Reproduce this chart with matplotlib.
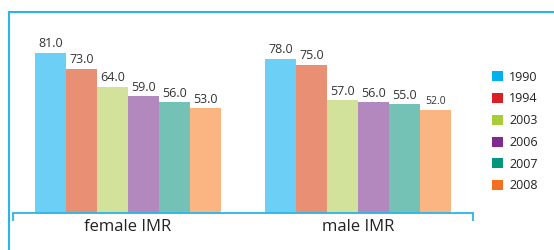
import matplotlib
matplotlib.use("Agg")
import matplotlib.pyplot as plt
from matplotlib.lines import Line2D
from matplotlib.patches import Patch
import numpy as np

plt.rcParams["font.family"] = ["Open Sans", "DejaVu Sans"]

categories = ["female IMR", "male IMR"]
years = ["1990", "1994", "2003", "2006", "2007", "2008"]
values = {
    "1990": [81.0, 78.0],
    "1994": [73.0, 75.0],
    "2003": [64.0, 57.0],
    "2006": [59.0, 56.0],
    "2007": [56.0, 55.0],
    "2008": [53.0, 52.0],
}
bar_colors = ["#6CCFF6", "#E98F73", "#D2E29B", "#B388BE", "#74C2B5", "#FAB583"]
legend_colors = ["#00B0F0", "#DA1F26", "#A9CD3A", "#7E2A8F", "#00977E", "#F37022"]

fig = plt.figure(figsize=(5.54, 2.5), dpi=100, facecolor="white")
W, H = 554, 250
ax = fig.add_axes([13 / W, 37 / H, 460 / W, 193 / H])

frame_color = "#2AB4E8"
x = np.arange(len(categories))
width = 0.135
for j, yr in enumerate(years):
    bars = ax.bar(x + (j - 2.5) * width, values[yr], width, color=bar_colors[j],
                  label=yr)
    labels = ax.bar_label(bars, fmt="%.1f", padding=2, fontsize=9, color="#333333")
    if yr == "2008":
        labels[1].set_fontsize(7.5)

ax.set_xlim(-0.5, 1.5)
ax.set_ylim(0, 97.7)
for s in ["top", "right", "left"]:
    ax.spines[s].set_visible(False)
ax.spines["bottom"].set_color(frame_color)
ax.spines["bottom"].set_linewidth(1.3)
ax.set_yticks([])
ax.set_xticks([-0.5, 1.5])
ax.set_xticklabels(["", ""])
ax.tick_params(axis="x", which="major", direction="out", length=6,
               width=1.3, color=frame_color)
ax.set_xticks(x, minor=True)
ax.set_xticklabels(categories, minor=True, fontsize=12, color="#222222")
ax.tick_params(axis="x", which="minor", length=0, pad=4)

handles = [Patch(facecolor=c, edgecolor="none") for c in legend_colors]
fig.legend(handles, years, loc="center left", bbox_to_anchor=(486 / W, 0.474),
           frameon=False, fontsize=9, handlelength=0.85, handleheight=0.85,
           handletextpad=0.5, labelspacing=0.7, borderpad=0, labelcolor="#222222")

# outer frame lines (top and left)
fig.add_artist(Line2D([9 / W, 1], [1 - 12 / H, 1 - 12 / H], color=frame_color, lw=1.5))
fig.add_artist(Line2D([9 / W, 9 / W], [0, 1 - 12 / H], color=frame_color, lw=1.5))

fig.savefig("out.png", dpi=100, facecolor="white")
